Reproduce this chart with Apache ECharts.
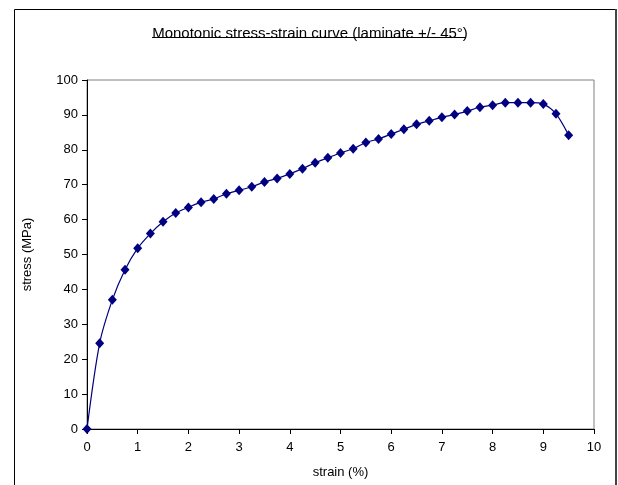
<!DOCTYPE html>
<html lang="en">
<head>
  <meta charset="UTF-8">
  <title>Monotonic stress-strain curve</title>
  <style>
    html, body { margin: 0; padding: 0; background: #fff; }
    #main { width: 618px; height: 485px; }
  </style>
</head>
<body>
  <div id="main"></div>
</body>
<script src="https://cdn.jsdelivr.net/npm/echarts@6/dist/echarts.min.js"></script>
<script>
  const titleText = 'Monotonic stress-strain curve (laminate +/- 45\u00b0)'

  // strain (%) and stress (MPa)
  const strain = [0, 0.25, 0.5, 0.75, 1, 1.25, 1.5, 1.75, 2, 2.25, 2.5, 2.75, 3, 3.25,
    3.5, 3.75, 4, 4.25, 4.5, 4.75, 5, 5.25, 5.5, 5.75, 6, 6.25, 6.5, 6.75, 7, 7.25,
    7.5, 7.75, 8, 8.25, 8.5, 8.75, 9, 9.25, 9.5]
  const stress = [0, 24.6, 37.0, 45.6, 51.8, 56.0, 59.4, 61.9, 63.5, 65.0, 65.9, 67.4,
    68.4, 69.4, 70.8, 71.8, 73.1, 74.6, 76.3, 77.7, 79.1, 80.3, 82.1, 83.1, 84.5, 85.9,
    87.3, 88.3, 89.3, 90.1, 91.1, 92.2, 92.8, 93.5, 93.5, 93.5, 93.1, 90.3, 84.2]

  const font = 'Liberation Sans, Arial, sans-serif'

  let myChart = echarts.init(document.getElementById('main'))

  let points = strain.map((s, i) => [s, stress[i]])

  myChart.setOption({
    animation: false,
    textStyle: { fontFamily: font },
    title: {
      text: titleText,
      left: 305,
      textAlign: 'center',
      top: 21,
      textStyle: { fontFamily: font, fontSize: 15, fontWeight: 'normal', color: '#000' }
    },
    graphic: [
      {
        // outer chart frame
        type: 'rect',
        shape: { x: 14.5, y: 9.5, width: 601, height: 500 },
        style: { fill: null, stroke: '#000', lineWidth: 1 },
        silent: true
      },
      {
        type: 'line',
        shape: { x1: 616, y1: 9, x2: 616, y2: 485 },
        style: { stroke: '#444', lineWidth: 2 },
        silent: true
      },
      {
        // title underline
        type: 'line',
        shape: { x1: 152, y1: 37.5, x2: 466, y2: 37.5 },
        style: { stroke: '#000', lineWidth: 1 },
        silent: true
      }
    ],
    grid: {
      left: 87,
      right: 24,
      top: 80,
      bottom: 56,
      show: true,
      borderColor: '#808080',
      borderWidth: 1,
      backgroundColor: '#fff'
    },
    xAxis: {
      type: 'value',
      min: 0,
      max: 10,
      interval: 1,
      name: 'strain (%)',
      nameLocation: 'middle',
      nameGap: 37,
      nameTextStyle: { fontSize: 13, color: '#000', fontFamily: font },
      axisLine: { onZero: false, lineStyle: { color: '#000', width: 1 } },
      axisTick: { inside: false, length: 5, lineStyle: { color: '#000' } },
      axisLabel: { fontSize: 13, color: '#000', margin: 12, fontFamily: font },
      splitLine: { show: false }
    },
    yAxis: {
      type: 'value',
      min: 0,
      max: 100,
      interval: 10,
      name: 'stress (MPa)',
      nameLocation: 'middle',
      nameGap: 53,
      nameRotate: 90,
      nameTextStyle: { fontSize: 13, color: '#000', fontFamily: font },
      axisLine: { show: true, onZero: false, lineStyle: { color: '#000', width: 1 } },
      axisTick: { show: true, inside: false, length: 5, lineStyle: { color: '#000' } },
      axisLabel: { fontSize: 13, color: '#000', margin: 9, fontFamily: font },
      splitLine: { show: false }
    },
    series: [{
      name: 'stress',
      type: 'line',
      data: points,
      smooth: 0.3,
      symbol: 'diamond',
      symbolSize: [9, 10],
      itemStyle: { color: '#000080' },
      lineStyle: { color: '#000080', width: 1.2 },
      clip: false
    }]
  })
</script>
</html>
